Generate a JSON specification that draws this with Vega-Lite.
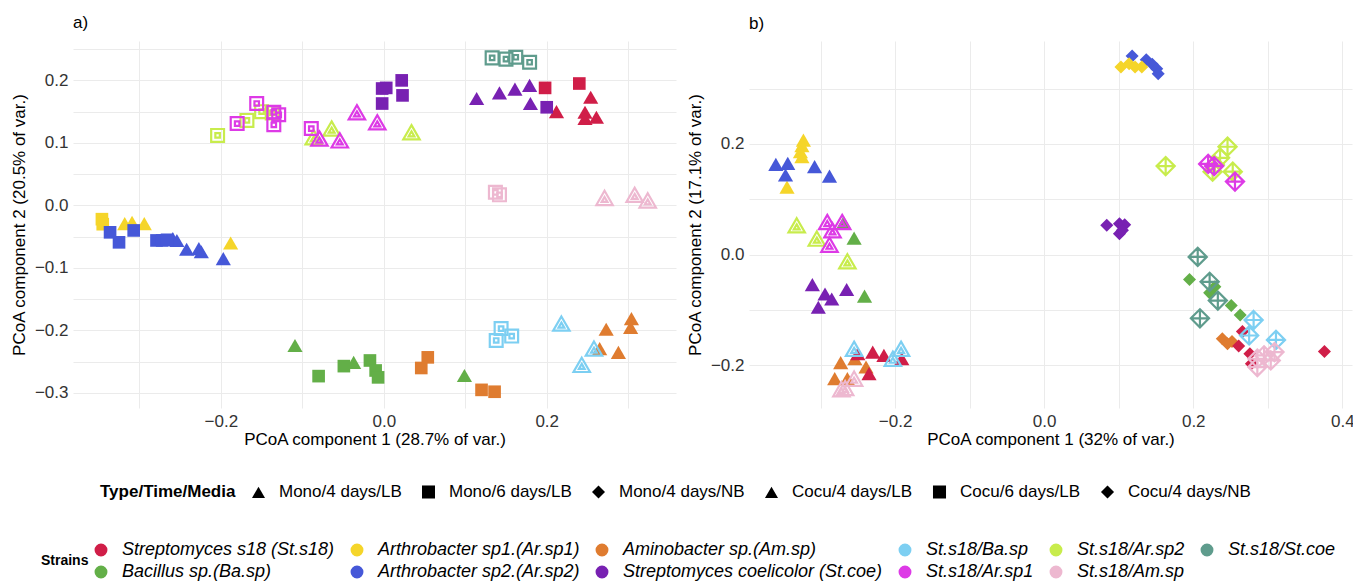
{
  "$schema": "https://vega.github.io/schema/vega-lite/v6.json",
  "padding": {"left": 10, "top": 14, "right": 0, "bottom": 0},
  "config": {
    "font": "Liberation Sans",
    "view": {"stroke": null},
    "axis": {"domain": false, "ticks": false, "gridColor": "#EBEBEB", "gridWidth": 1, "labelFontSize": 17, "labelColor": "#333333", "titleFontSize": 17, "titleFontWeight": "normal", "titleColor": "#000000", "labelPadding": 5, "labelFlush": false, "labelOverlap": false},
    "axisX": {"titlePadding": 2},
    "axisY": {"titlePadding": 6},
    "legend": {"labelFontSize": 17, "titleFontSize": 17, "titleFontWeight": "bold", "titleColor": "#000000", "labelColor": "#000000", "labelLimit": 400, "titleOrient": "left", "symbolOpacity": 1},
    "concat": {"spacing": 10}
  },
  "datasets": {
    "a": [
      {"strain": "Streptomyces s18 (St.s18)", "type": "Mono/4 days/LB", "pc1": 0.212, "pc2": 0.150},
      {"strain": "Streptomyces s18 (St.s18)", "type": "Mono/4 days/LB", "pc1": 0.254, "pc2": 0.173},
      {"strain": "Streptomyces s18 (St.s18)", "type": "Mono/4 days/LB", "pc1": 0.247, "pc2": 0.149},
      {"strain": "Streptomyces s18 (St.s18)", "type": "Mono/4 days/LB", "pc1": 0.247, "pc2": 0.139},
      {"strain": "Streptomyces s18 (St.s18)", "type": "Mono/4 days/LB", "pc1": 0.261, "pc2": 0.141},
      {"strain": "Streptomyces coelicolor (St.coe)", "type": "Mono/4 days/LB", "pc1": 0.114, "pc2": 0.171},
      {"strain": "Streptomyces coelicolor (St.coe)", "type": "Mono/4 days/LB", "pc1": 0.142, "pc2": 0.180},
      {"strain": "Streptomyces coelicolor (St.coe)", "type": "Mono/4 days/LB", "pc1": 0.161, "pc2": 0.186},
      {"strain": "Streptomyces coelicolor (St.coe)", "type": "Mono/4 days/LB", "pc1": 0.179, "pc2": 0.192},
      {"strain": "Streptomyces coelicolor (St.coe)", "type": "Mono/4 days/LB", "pc1": 0.180, "pc2": 0.163},
      {"strain": "Arthrobacter sp1.(Ar.sp1)", "type": "Mono/4 days/LB", "pc1": -0.318, "pc2": -0.029},
      {"strain": "Arthrobacter sp1.(Ar.sp1)", "type": "Mono/4 days/LB", "pc1": -0.309, "pc2": -0.027},
      {"strain": "Arthrobacter sp1.(Ar.sp1)", "type": "Mono/4 days/LB", "pc1": -0.294, "pc2": -0.029},
      {"strain": "Arthrobacter sp1.(Ar.sp1)", "type": "Mono/4 days/LB", "pc1": -0.188, "pc2": -0.060},
      {"strain": "Arthrobacter sp2.(Ar.sp2)", "type": "Mono/4 days/LB", "pc1": -0.259, "pc2": -0.053},
      {"strain": "Arthrobacter sp2.(Ar.sp2)", "type": "Mono/4 days/LB", "pc1": -0.254, "pc2": -0.056},
      {"strain": "Arthrobacter sp2.(Ar.sp2)", "type": "Mono/4 days/LB", "pc1": -0.242, "pc2": -0.070},
      {"strain": "Arthrobacter sp2.(Ar.sp2)", "type": "Mono/4 days/LB", "pc1": -0.227, "pc2": -0.069},
      {"strain": "Arthrobacter sp2.(Ar.sp2)", "type": "Mono/4 days/LB", "pc1": -0.224, "pc2": -0.074},
      {"strain": "Arthrobacter sp2.(Ar.sp2)", "type": "Mono/4 days/LB", "pc1": -0.197, "pc2": -0.085},
      {"strain": "Bacillus sp.(Ba.sp)", "type": "Mono/4 days/LB", "pc1": -0.109, "pc2": -0.224},
      {"strain": "Bacillus sp.(Ba.sp)", "type": "Mono/4 days/LB", "pc1": -0.037, "pc2": -0.251},
      {"strain": "Bacillus sp.(Ba.sp)", "type": "Mono/4 days/LB", "pc1": 0.099, "pc2": -0.272},
      {"strain": "Aminobacter sp.(Am.sp)", "type": "Mono/4 days/LB", "pc1": 0.273, "pc2": -0.198},
      {"strain": "Aminobacter sp.(Am.sp)", "type": "Mono/4 days/LB", "pc1": 0.304, "pc2": -0.181},
      {"strain": "Aminobacter sp.(Am.sp)", "type": "Mono/4 days/LB", "pc1": 0.303, "pc2": -0.195},
      {"strain": "Aminobacter sp.(Am.sp)", "type": "Mono/4 days/LB", "pc1": 0.265, "pc2": -0.229},
      {"strain": "Aminobacter sp.(Am.sp)", "type": "Mono/4 days/LB", "pc1": 0.288, "pc2": -0.235},
      {"strain": "Streptomyces s18 (St.s18)", "type": "Mono/6 days/LB", "pc1": 0.198, "pc2": 0.188},
      {"strain": "Streptomyces s18 (St.s18)", "type": "Mono/6 days/LB", "pc1": 0.240, "pc2": 0.195},
      {"strain": "Streptomyces coelicolor (St.coe)", "type": "Mono/6 days/LB", "pc1": -0.002, "pc2": 0.187},
      {"strain": "Streptomyces coelicolor (St.coe)", "type": "Mono/6 days/LB", "pc1": 0.003, "pc2": 0.188},
      {"strain": "Streptomyces coelicolor (St.coe)", "type": "Mono/6 days/LB", "pc1": 0.022, "pc2": 0.200},
      {"strain": "Streptomyces coelicolor (St.coe)", "type": "Mono/6 days/LB", "pc1": 0.023, "pc2": 0.176},
      {"strain": "Streptomyces coelicolor (St.coe)", "type": "Mono/6 days/LB", "pc1": -0.002, "pc2": 0.163},
      {"strain": "Streptomyces coelicolor (St.coe)", "type": "Mono/6 days/LB", "pc1": 0.200, "pc2": 0.157},
      {"strain": "Arthrobacter sp1.(Ar.sp1)", "type": "Mono/6 days/LB", "pc1": -0.346, "pc2": -0.022},
      {"strain": "Arthrobacter sp1.(Ar.sp1)", "type": "Mono/6 days/LB", "pc1": -0.345, "pc2": -0.030},
      {"strain": "Arthrobacter sp2.(Ar.sp2)", "type": "Mono/6 days/LB", "pc1": -0.336, "pc2": -0.043},
      {"strain": "Arthrobacter sp2.(Ar.sp2)", "type": "Mono/6 days/LB", "pc1": -0.325, "pc2": -0.059},
      {"strain": "Arthrobacter sp2.(Ar.sp2)", "type": "Mono/6 days/LB", "pc1": -0.307, "pc2": -0.040},
      {"strain": "Arthrobacter sp2.(Ar.sp2)", "type": "Mono/6 days/LB", "pc1": -0.279, "pc2": -0.056},
      {"strain": "Arthrobacter sp2.(Ar.sp2)", "type": "Mono/6 days/LB", "pc1": -0.272, "pc2": -0.056},
      {"strain": "Arthrobacter sp2.(Ar.sp2)", "type": "Mono/6 days/LB", "pc1": -0.266, "pc2": -0.055},
      {"strain": "Bacillus sp.(Ba.sp)", "type": "Mono/6 days/LB", "pc1": -0.080, "pc2": -0.273},
      {"strain": "Bacillus sp.(Ba.sp)", "type": "Mono/6 days/LB", "pc1": -0.049, "pc2": -0.257},
      {"strain": "Bacillus sp.(Ba.sp)", "type": "Mono/6 days/LB", "pc1": -0.017, "pc2": -0.248},
      {"strain": "Bacillus sp.(Ba.sp)", "type": "Mono/6 days/LB", "pc1": -0.010, "pc2": -0.264},
      {"strain": "Bacillus sp.(Ba.sp)", "type": "Mono/6 days/LB", "pc1": -0.007, "pc2": -0.275},
      {"strain": "Aminobacter sp.(Am.sp)", "type": "Mono/6 days/LB", "pc1": 0.046, "pc2": -0.260},
      {"strain": "Aminobacter sp.(Am.sp)", "type": "Mono/6 days/LB", "pc1": 0.054, "pc2": -0.243},
      {"strain": "Aminobacter sp.(Am.sp)", "type": "Mono/6 days/LB", "pc1": 0.120, "pc2": -0.295},
      {"strain": "Aminobacter sp.(Am.sp)", "type": "Mono/6 days/LB", "pc1": 0.136, "pc2": -0.298},
      {"strain": "St.s18/Ar.sp2", "type": "Cocu/4 days/LB", "pc1": -0.064, "pc2": 0.123},
      {"strain": "St.s18/Ar.sp2", "type": "Cocu/4 days/LB", "pc1": 0.034, "pc2": 0.117},
      {"strain": "St.s18/Ar.sp2", "type": "Cocu/4 days/LB", "pc1": -0.086, "pc2": 0.109},
      {"strain": "St.s18/Ar.sp1", "type": "Cocu/4 days/LB", "pc1": -0.033, "pc2": 0.149},
      {"strain": "St.s18/Ar.sp1", "type": "Cocu/4 days/LB", "pc1": -0.008, "pc2": 0.133},
      {"strain": "St.s18/Ar.sp1", "type": "Cocu/4 days/LB", "pc1": -0.079, "pc2": 0.107},
      {"strain": "St.s18/Ar.sp1", "type": "Cocu/4 days/LB", "pc1": -0.054, "pc2": 0.104},
      {"strain": "St.s18/Am.sp", "type": "Cocu/4 days/LB", "pc1": 0.271, "pc2": 0.012},
      {"strain": "St.s18/Am.sp", "type": "Cocu/4 days/LB", "pc1": 0.308, "pc2": 0.017},
      {"strain": "St.s18/Am.sp", "type": "Cocu/4 days/LB", "pc1": 0.324, "pc2": 0.008},
      {"strain": "St.s18/Ba.sp", "type": "Cocu/4 days/LB", "pc1": 0.218, "pc2": -0.189},
      {"strain": "St.s18/Ba.sp", "type": "Cocu/4 days/LB", "pc1": 0.258, "pc2": -0.229},
      {"strain": "St.s18/Ba.sp", "type": "Cocu/4 days/LB", "pc1": 0.243, "pc2": -0.255},
      {"strain": "St.s18/St.coe", "type": "Cocu/6 days/LB", "pc1": 0.133, "pc2": 0.236},
      {"strain": "St.s18/St.coe", "type": "Cocu/6 days/LB", "pc1": 0.150, "pc2": 0.234},
      {"strain": "St.s18/St.coe", "type": "Cocu/6 days/LB", "pc1": 0.162, "pc2": 0.237},
      {"strain": "St.s18/St.coe", "type": "Cocu/6 days/LB", "pc1": 0.179, "pc2": 0.229},
      {"strain": "St.s18/Ar.sp2", "type": "Cocu/6 days/LB", "pc1": -0.204, "pc2": 0.112},
      {"strain": "St.s18/Ar.sp2", "type": "Cocu/6 days/LB", "pc1": -0.168, "pc2": 0.136},
      {"strain": "St.s18/Ar.sp2", "type": "Cocu/6 days/LB", "pc1": -0.150, "pc2": 0.150},
      {"strain": "St.s18/Ar.sp2", "type": "Cocu/6 days/LB", "pc1": -0.137, "pc2": 0.148},
      {"strain": "St.s18/Ar.sp1", "type": "Cocu/6 days/LB", "pc1": -0.156, "pc2": 0.163},
      {"strain": "St.s18/Ar.sp1", "type": "Cocu/6 days/LB", "pc1": -0.180, "pc2": 0.131},
      {"strain": "St.s18/Ar.sp1", "type": "Cocu/6 days/LB", "pc1": -0.135, "pc2": 0.149},
      {"strain": "St.s18/Ar.sp1", "type": "Cocu/6 days/LB", "pc1": -0.129, "pc2": 0.145},
      {"strain": "St.s18/Ar.sp1", "type": "Cocu/6 days/LB", "pc1": -0.135, "pc2": 0.129},
      {"strain": "St.s18/Ar.sp1", "type": "Cocu/6 days/LB", "pc1": -0.089, "pc2": 0.123},
      {"strain": "St.s18/Am.sp", "type": "Cocu/6 days/LB", "pc1": 0.137, "pc2": 0.021},
      {"strain": "St.s18/Am.sp", "type": "Cocu/6 days/LB", "pc1": 0.142, "pc2": 0.017},
      {"strain": "St.s18/Ba.sp", "type": "Cocu/6 days/LB", "pc1": 0.138, "pc2": -0.216},
      {"strain": "St.s18/Ba.sp", "type": "Cocu/6 days/LB", "pc1": 0.144, "pc2": -0.197},
      {"strain": "St.s18/Ba.sp", "type": "Cocu/6 days/LB", "pc1": 0.157, "pc2": -0.209}
    ],
    "b": [
      {"strain": "Arthrobacter sp1.(Ar.sp1)", "type": "Mono/4 days/LB", "pc1": -0.323, "pc2": 0.207},
      {"strain": "Arthrobacter sp1.(Ar.sp1)", "type": "Mono/4 days/LB", "pc1": -0.325, "pc2": 0.197},
      {"strain": "Arthrobacter sp1.(Ar.sp1)", "type": "Mono/4 days/LB", "pc1": -0.327, "pc2": 0.186},
      {"strain": "Arthrobacter sp1.(Ar.sp1)", "type": "Mono/4 days/LB", "pc1": -0.325, "pc2": 0.177},
      {"strain": "Arthrobacter sp1.(Ar.sp1)", "type": "Mono/4 days/LB", "pc1": -0.345, "pc2": 0.122},
      {"strain": "Arthrobacter sp2.(Ar.sp2)", "type": "Mono/4 days/LB", "pc1": -0.360, "pc2": 0.163},
      {"strain": "Arthrobacter sp2.(Ar.sp2)", "type": "Mono/4 days/LB", "pc1": -0.344, "pc2": 0.165},
      {"strain": "Arthrobacter sp2.(Ar.sp2)", "type": "Mono/4 days/LB", "pc1": -0.347, "pc2": 0.144},
      {"strain": "Arthrobacter sp2.(Ar.sp2)", "type": "Mono/4 days/LB", "pc1": -0.308, "pc2": 0.159},
      {"strain": "Arthrobacter sp2.(Ar.sp2)", "type": "Mono/4 days/LB", "pc1": -0.288, "pc2": 0.142},
      {"strain": "Bacillus sp.(Ba.sp)", "type": "Mono/4 days/LB", "pc1": -0.269, "pc2": 0.058},
      {"strain": "Bacillus sp.(Ba.sp)", "type": "Mono/4 days/LB", "pc1": -0.255, "pc2": 0.030},
      {"strain": "Bacillus sp.(Ba.sp)", "type": "Mono/4 days/LB", "pc1": -0.241, "pc2": -0.075},
      {"strain": "Streptomyces coelicolor (St.coe)", "type": "Mono/4 days/LB", "pc1": -0.311, "pc2": -0.054},
      {"strain": "Streptomyces coelicolor (St.coe)", "type": "Mono/4 days/LB", "pc1": -0.294, "pc2": -0.071},
      {"strain": "Streptomyces coelicolor (St.coe)", "type": "Mono/4 days/LB", "pc1": -0.285, "pc2": -0.080},
      {"strain": "Streptomyces coelicolor (St.coe)", "type": "Mono/4 days/LB", "pc1": -0.303, "pc2": -0.095},
      {"strain": "Streptomyces coelicolor (St.coe)", "type": "Mono/4 days/LB", "pc1": -0.265, "pc2": -0.063},
      {"strain": "Aminobacter sp.(Am.sp)", "type": "Mono/4 days/LB", "pc1": -0.273, "pc2": -0.195},
      {"strain": "Aminobacter sp.(Am.sp)", "type": "Mono/4 days/LB", "pc1": -0.254, "pc2": -0.188},
      {"strain": "Aminobacter sp.(Am.sp)", "type": "Mono/4 days/LB", "pc1": -0.239, "pc2": -0.203},
      {"strain": "Aminobacter sp.(Am.sp)", "type": "Mono/4 days/LB", "pc1": -0.281, "pc2": -0.224},
      {"strain": "Aminobacter sp.(Am.sp)", "type": "Mono/4 days/LB", "pc1": -0.264, "pc2": -0.224},
      {"strain": "Streptomyces s18 (St.s18)", "type": "Mono/4 days/LB", "pc1": -0.250, "pc2": -0.179},
      {"strain": "Streptomyces s18 (St.s18)", "type": "Mono/4 days/LB", "pc1": -0.230, "pc2": -0.176},
      {"strain": "Streptomyces s18 (St.s18)", "type": "Mono/4 days/LB", "pc1": -0.215, "pc2": -0.182},
      {"strain": "Streptomyces s18 (St.s18)", "type": "Mono/4 days/LB", "pc1": -0.191, "pc2": -0.188},
      {"strain": "Streptomyces s18 (St.s18)", "type": "Mono/4 days/LB", "pc1": -0.235, "pc2": -0.215},
      {"strain": "Arthrobacter sp2.(Ar.sp2)", "type": "Mono/4 days/NB", "pc1": 0.118, "pc2": 0.359},
      {"strain": "Arthrobacter sp2.(Ar.sp2)", "type": "Mono/4 days/NB", "pc1": 0.137, "pc2": 0.352},
      {"strain": "Arthrobacter sp2.(Ar.sp2)", "type": "Mono/4 days/NB", "pc1": 0.145, "pc2": 0.344},
      {"strain": "Arthrobacter sp2.(Ar.sp2)", "type": "Mono/4 days/NB", "pc1": 0.151, "pc2": 0.336},
      {"strain": "Arthrobacter sp2.(Ar.sp2)", "type": "Mono/4 days/NB", "pc1": 0.153, "pc2": 0.327},
      {"strain": "Arthrobacter sp1.(Ar.sp1)", "type": "Mono/4 days/NB", "pc1": 0.103, "pc2": 0.339},
      {"strain": "Arthrobacter sp1.(Ar.sp1)", "type": "Mono/4 days/NB", "pc1": 0.114, "pc2": 0.345},
      {"strain": "Arthrobacter sp1.(Ar.sp1)", "type": "Mono/4 days/NB", "pc1": 0.122, "pc2": 0.339},
      {"strain": "Arthrobacter sp1.(Ar.sp1)", "type": "Mono/4 days/NB", "pc1": 0.131, "pc2": 0.339},
      {"strain": "Streptomyces coelicolor (St.coe)", "type": "Mono/4 days/NB", "pc1": 0.084, "pc2": 0.053},
      {"strain": "Streptomyces coelicolor (St.coe)", "type": "Mono/4 days/NB", "pc1": 0.101, "pc2": 0.056},
      {"strain": "Streptomyces coelicolor (St.coe)", "type": "Mono/4 days/NB", "pc1": 0.108, "pc2": 0.054},
      {"strain": "Streptomyces coelicolor (St.coe)", "type": "Mono/4 days/NB", "pc1": 0.101, "pc2": 0.038},
      {"strain": "Streptomyces coelicolor (St.coe)", "type": "Mono/4 days/NB", "pc1": 0.105, "pc2": 0.044},
      {"strain": "Bacillus sp.(Ba.sp)", "type": "Mono/4 days/NB", "pc1": 0.195, "pc2": -0.045},
      {"strain": "Bacillus sp.(Ba.sp)", "type": "Mono/4 days/NB", "pc1": 0.222, "pc2": -0.069},
      {"strain": "Bacillus sp.(Ba.sp)", "type": "Mono/4 days/NB", "pc1": 0.229, "pc2": -0.058},
      {"strain": "Bacillus sp.(Ba.sp)", "type": "Mono/4 days/NB", "pc1": 0.251, "pc2": -0.092},
      {"strain": "Bacillus sp.(Ba.sp)", "type": "Mono/4 days/NB", "pc1": 0.263, "pc2": -0.109},
      {"strain": "Aminobacter sp.(Am.sp)", "type": "Mono/4 days/NB", "pc1": 0.239, "pc2": -0.152},
      {"strain": "Aminobacter sp.(Am.sp)", "type": "Mono/4 days/NB", "pc1": 0.246, "pc2": -0.161},
      {"strain": "Aminobacter sp.(Am.sp)", "type": "Mono/4 days/NB", "pc1": 0.252, "pc2": -0.157},
      {"strain": "Streptomyces s18 (St.s18)", "type": "Mono/4 days/NB", "pc1": 0.266, "pc2": -0.139},
      {"strain": "Streptomyces s18 (St.s18)", "type": "Mono/4 days/NB", "pc1": 0.261, "pc2": -0.165},
      {"strain": "Streptomyces s18 (St.s18)", "type": "Mono/4 days/NB", "pc1": 0.276, "pc2": -0.179},
      {"strain": "Streptomyces s18 (St.s18)", "type": "Mono/4 days/NB", "pc1": 0.278, "pc2": -0.197},
      {"strain": "Streptomyces s18 (St.s18)", "type": "Mono/4 days/NB", "pc1": 0.376, "pc2": -0.175},
      {"strain": "St.s18/Ar.sp2", "type": "Cocu/4 days/LB", "pc1": -0.332, "pc2": 0.053},
      {"strain": "St.s18/Ar.sp2", "type": "Cocu/4 days/LB", "pc1": -0.305, "pc2": 0.029},
      {"strain": "St.s18/Ar.sp2", "type": "Cocu/4 days/LB", "pc1": -0.264, "pc2": -0.012},
      {"strain": "St.s18/Ar.sp1", "type": "Cocu/4 days/LB", "pc1": -0.291, "pc2": 0.059},
      {"strain": "St.s18/Ar.sp1", "type": "Cocu/4 days/LB", "pc1": -0.284, "pc2": 0.044},
      {"strain": "St.s18/Ar.sp1", "type": "Cocu/4 days/LB", "pc1": -0.271, "pc2": 0.059},
      {"strain": "St.s18/Ar.sp1", "type": "Cocu/4 days/LB", "pc1": -0.288, "pc2": 0.018},
      {"strain": "St.s18/Ba.sp", "type": "Cocu/4 days/LB", "pc1": -0.255, "pc2": -0.170},
      {"strain": "St.s18/Ba.sp", "type": "Cocu/4 days/LB", "pc1": -0.203, "pc2": -0.188},
      {"strain": "St.s18/Ba.sp", "type": "Cocu/4 days/LB", "pc1": -0.192, "pc2": -0.170},
      {"strain": "St.s18/Am.sp", "type": "Cocu/4 days/LB", "pc1": -0.272, "pc2": -0.243},
      {"strain": "St.s18/Am.sp", "type": "Cocu/4 days/LB", "pc1": -0.267, "pc2": -0.241},
      {"strain": "St.s18/Am.sp", "type": "Cocu/4 days/LB", "pc1": -0.255, "pc2": -0.224},
      {"strain": "St.s18/Ar.sp2", "type": "Cocu/4 days/NB", "pc1": 0.163, "pc2": 0.160},
      {"strain": "St.s18/Ar.sp2", "type": "Cocu/4 days/NB", "pc1": 0.246, "pc2": 0.195},
      {"strain": "St.s18/Ar.sp2", "type": "Cocu/4 days/NB", "pc1": 0.236, "pc2": 0.175},
      {"strain": "St.s18/Ar.sp2", "type": "Cocu/4 days/NB", "pc1": 0.229, "pc2": 0.162},
      {"strain": "St.s18/Ar.sp2", "type": "Cocu/4 days/NB", "pc1": 0.226, "pc2": 0.150},
      {"strain": "St.s18/Ar.sp2", "type": "Cocu/4 days/NB", "pc1": 0.253, "pc2": 0.150},
      {"strain": "St.s18/Ar.sp1", "type": "Cocu/4 days/NB", "pc1": 0.220, "pc2": 0.164},
      {"strain": "St.s18/Ar.sp1", "type": "Cocu/4 days/NB", "pc1": 0.256, "pc2": 0.132},
      {"strain": "St.s18/Ar.sp1", "type": "Cocu/4 days/NB", "pc1": 0.228, "pc2": 0.160},
      {"strain": "St.s18/St.coe", "type": "Cocu/4 days/NB", "pc1": 0.206, "pc2": -0.004},
      {"strain": "St.s18/St.coe", "type": "Cocu/4 days/NB", "pc1": 0.222, "pc2": -0.049},
      {"strain": "St.s18/St.coe", "type": "Cocu/4 days/NB", "pc1": 0.233, "pc2": -0.083},
      {"strain": "St.s18/St.coe", "type": "Cocu/4 days/NB", "pc1": 0.209, "pc2": -0.115},
      {"strain": "St.s18/Ba.sp", "type": "Cocu/4 days/NB", "pc1": 0.281, "pc2": -0.118},
      {"strain": "St.s18/Ba.sp", "type": "Cocu/4 days/NB", "pc1": 0.275, "pc2": -0.146},
      {"strain": "St.s18/Ba.sp", "type": "Cocu/4 days/NB", "pc1": 0.311, "pc2": -0.154},
      {"strain": "St.s18/Am.sp", "type": "Cocu/4 days/NB", "pc1": 0.286, "pc2": -0.188},
      {"strain": "St.s18/Am.sp", "type": "Cocu/4 days/NB", "pc1": 0.295, "pc2": -0.182},
      {"strain": "St.s18/Am.sp", "type": "Cocu/4 days/NB", "pc1": 0.309, "pc2": -0.176},
      {"strain": "St.s18/Am.sp", "type": "Cocu/4 days/NB", "pc1": 0.304, "pc2": -0.191},
      {"strain": "St.s18/Am.sp", "type": "Cocu/4 days/NB", "pc1": 0.286, "pc2": -0.203}
    ]
  },
  "hconcat": [
    {
      "width": 603,
      "height": 367,
      "title": {"text": "a)", "anchor": "start", "frame": "group", "fontSize": 17, "fontWeight": "normal", "offset": 8},
      "data": {"name": "a"},
      "encoding": {
        "x": {"field": "pc1", "type": "quantitative", "scale": {"domain": [-0.3815, 0.3587], "nice": false, "zero": false},
          "axis": {"title": "PCoA component 1 (28.7% of var.)", "values": [-0.3, -0.2, -0.1, 0, 0.1, 0.2, 0.3], "labelExpr": "round(datum.value*10) % 2 == 0 ? format(datum.value, '.1f') : ''"}},
        "y": {"field": "pc2", "type": "quantitative", "scale": {"domain": [-0.324, 0.263], "nice": false, "zero": false},
          "axis": {"title": "PCoA component 2 (20.5% of var.)", "values": [-0.3, -0.25, -0.2, -0.15, -0.1, -0.05, 0, 0.05, 0.1, 0.15, 0.2, 0.25], "labelExpr": "round(datum.value*20) % 2 == 0 ? format(datum.value, '.1f') : ''"}},
        "color": {"field": "strain", "type": "nominal",
          "scale": {"domain": ["Streptomyces s18 (St.s18)", "Arthrobacter sp1.(Ar.sp1)", "Aminobacter sp.(Am.sp)", "St.s18/Ba.sp", "St.s18/Ar.sp2", "St.s18/St.coe", "Bacillus sp.(Ba.sp)", "Arthrobacter sp2.(Ar.sp2)", "Streptomyces coelicolor (St.coe)", "St.s18/Ar.sp1", "St.s18/Am.sp"],
                    "range": ["#D01E48", "#F5D52A", "#DF7C30", "#7DCFF2", "#C8EC4C", "#5F9C8D", "#63AF48", "#4658D8", "#7821B2", "#DD3AE6", "#EDB8D0"]},
          "legend": {"title": "Strains", "orient": "none", "legendX": -32, "legendY": 500, "direction": "horizontal", "columns": 6, "columnPadding": 13, "rowPadding": 4, "labelFontSize": 18, "titleFontSize": 14, "labelFontStyle": "italic", "labelOffset": 12, "titlePadding": 3, "symbolType": "circle", "symbolSize": 130}},
        "shape": {"field": "type", "type": "nominal",
          "scale": {"domain": ["Mono/4 days/LB", "Mono/6 days/LB", "Mono/4 days/NB", "Cocu/4 days/LB", "Cocu/6 days/LB", "Cocu/4 days/NB"],
                    "range": ["triangle-up", "square", "diamond", "M0,-0.866L1,0.866L-1,0.866Z M0,-0.115L0.35,0.491L-0.35,0.491Z", "M-1,-1H1V1H-1Z M-0.35,-0.35H0.35V0.35H-0.35Z", "M0,-1L1,0L0,1L-1,0Z M0,-1V1 M-1,0H1"]},
          "legend": {"title": "Type/Time/Media", "orient": "none", "legendX": 27, "legendY": 442, "direction": "horizontal", "columnPadding": 16, "labelOffset": 12, "titlePadding": 14, "symbolSize": 170}}
      },
      "layer": [
        {"transform": [{"filter": "datum.type == 'Mono/4 days/LB'"}], "mark": {"type": "point", "filled": true, "opacity": 1, "size": 230}},
        {"transform": [{"filter": "datum.type == 'Mono/6 days/LB'"}], "mark": {"type": "point", "filled": true, "opacity": 1, "size": 160}},
        {"transform": [{"filter": "datum.type == 'Cocu/4 days/LB'"}], "mark": {"type": "point", "filled": false, "opacity": 1, "strokeWidth": 2.2, "size": 270}},
        {"transform": [{"filter": "datum.type == 'Cocu/6 days/LB'"}], "mark": {"type": "point", "filled": false, "opacity": 1, "strokeWidth": 2.2, "size": 165}}
      ]
    },
    {
      "width": 603,
      "height": 367,
      "title": {"text": "b)", "anchor": "start", "frame": "group", "fontSize": 17, "fontWeight": "normal", "offset": 8},
      "data": {"name": "b"},
      "encoding": {
        "x": {"field": "pc1", "type": "quantitative", "scale": {"domain": [-0.396, 0.413], "nice": false, "zero": false},
          "axis": {"title": "PCoA component 1 (32% of var.)", "values": [-0.3, -0.2, -0.1, 0, 0.1, 0.2, 0.3, 0.4], "labelExpr": "round(datum.value*10) % 2 == 0 ? format(datum.value, '.1f') : ''"}},
        "y": {"field": "pc2", "type": "quantitative", "scale": {"domain": [-0.277, 0.386], "nice": false, "zero": false},
          "axis": {"title": "PCoA component 2 (17.1% of var.)", "values": [-0.2, -0.1, 0, 0.1, 0.2, 0.3], "labelExpr": "round(datum.value*10) % 2 == 0 ? format(datum.value, '.1f') : ''"}},
        "color": {"field": "strain", "type": "nominal",
          "scale": {"domain": ["Streptomyces s18 (St.s18)", "Arthrobacter sp1.(Ar.sp1)", "Aminobacter sp.(Am.sp)", "St.s18/Ba.sp", "St.s18/Ar.sp2", "St.s18/St.coe", "Bacillus sp.(Ba.sp)", "Arthrobacter sp2.(Ar.sp2)", "Streptomyces coelicolor (St.coe)", "St.s18/Ar.sp1", "St.s18/Am.sp"],
                    "range": ["#D01E48", "#F5D52A", "#DF7C30", "#7DCFF2", "#C8EC4C", "#5F9C8D", "#63AF48", "#4658D8", "#7821B2", "#DD3AE6", "#EDB8D0"]},
          "legend": {"title": "Strains", "orient": "none", "legendX": -32, "legendY": 500, "direction": "horizontal", "columns": 6, "columnPadding": 13, "rowPadding": 4, "labelFontSize": 18, "titleFontSize": 14, "labelFontStyle": "italic", "labelOffset": 12, "titlePadding": 3, "symbolType": "circle", "symbolSize": 130}},
        "shape": {"field": "type", "type": "nominal",
          "scale": {"domain": ["Mono/4 days/LB", "Mono/6 days/LB", "Mono/4 days/NB", "Cocu/4 days/LB", "Cocu/6 days/LB", "Cocu/4 days/NB"],
                    "range": ["triangle-up", "square", "diamond", "M0,-0.866L1,0.866L-1,0.866Z M0,-0.115L0.35,0.491L-0.35,0.491Z", "M-1,-1H1V1H-1Z M-0.35,-0.35H0.35V0.35H-0.35Z", "M0,-1L1,0L0,1L-1,0Z M0,-1V1 M-1,0H1"]},
          "legend": {"title": "Type/Time/Media", "orient": "none", "legendX": 27, "legendY": 442, "direction": "horizontal", "columnPadding": 16, "labelOffset": 12, "titlePadding": 14, "symbolSize": 170}}
      },
      "layer": [
        {"transform": [{"filter": "datum.type == 'Mono/4 days/LB'"}], "mark": {"type": "point", "filled": true, "opacity": 1, "size": 230}},
        {"transform": [{"filter": "datum.type == 'Mono/4 days/NB'"}], "mark": {"type": "point", "filled": true, "opacity": 1, "size": 170}},
        {"transform": [{"filter": "datum.type == 'Cocu/4 days/LB'"}], "mark": {"type": "point", "filled": false, "opacity": 1, "strokeWidth": 2.2, "size": 270}},
        {"transform": [{"filter": "datum.type == 'Cocu/4 days/NB'"}], "mark": {"type": "point", "filled": false, "opacity": 1, "strokeWidth": 2.2, "size": 330}}
      ]
    }
  ],
  "resolve": {"scale": {"x": "independent", "y": "independent", "color": "shared", "shape": "shared"}, "legend": {"color": "shared", "shape": "shared"}}
}
